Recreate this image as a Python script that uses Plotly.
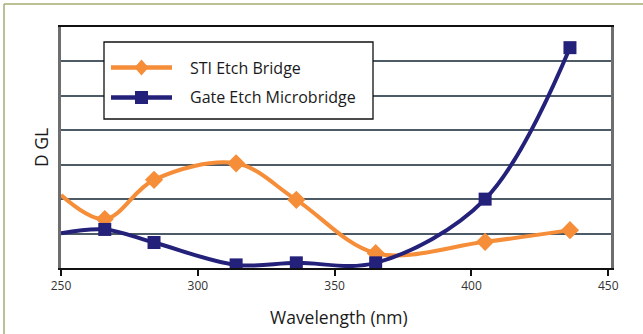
import plotly.graph_objects as go

# Wavelength sample points (nm); the 250 nm entry is the curve's start, drawn without a marker
wavelength = [250, 266, 284, 314, 336, 365, 405, 436]
sti_etch_bridge = [2.12, 1.42, 2.56, 3.04, 1.98, 0.43, 0.76, 1.10]
gate_etch_microbridge = [1.01, 1.12, 0.74, 0.09, 0.15, 0.15, 2.00, 6.40]
x_ticks = [250, 300, 350, 400, 450]
series_names = ["STI Etch Bridge", "Gate Etch Microbridge"]

ORANGE = "#f68d38"
NAVY = "#24217a"
FONT = "Open Sans, Noto Sans, sans-serif"

W, H = 643, 334
L, R, T, B = 61, 32, 27, 66
PW, PH = W - L - R, H - T - B


def px(x):
    return (x - L) / PW


def py(y):
    return (H - B - y) / PH


marker_sizes = [0] + [14] * (len(wavelength) - 1)
square_sizes = [0] + [13] * (len(wavelength) - 1)

fig = go.Figure()
fig.add_trace(go.Scatter(
    x=wavelength, y=sti_etch_bridge, name=series_names[0], mode="lines+markers",
    line=dict(color=ORANGE, width=4, shape="spline", smoothing=1.0),
    marker=dict(symbol="diamond", size=marker_sizes, color=ORANGE, opacity=1, line=dict(width=0)),
    showlegend=False,
))
fig.add_trace(go.Scatter(
    x=wavelength, y=gate_etch_microbridge, name=series_names[1], mode="lines+markers",
    line=dict(color=NAVY, width=4, shape="spline", smoothing=1.0),
    marker=dict(symbol="square", size=square_sizes, color=NAVY, opacity=1, line=dict(width=0)),
    showlegend=False,
))

shapes = []
annotations = []

# outer frame (left and top edges)
shapes.append(dict(type="line", xref="paper", yref="paper", x0=px(4), x1=px(4), y0=py(4), y1=py(H + 2),
                   line=dict(color="#a4ad72", width=1.5)))
shapes.append(dict(type="line", xref="paper", yref="paper", x0=px(4), x1=px(W + 2), y0=py(4), y1=py(4),
                   line=dict(color="#a4ad72", width=1.5)))

# legend box
shapes.append(dict(type="rect", xref="paper", yref="paper", x0=px(104), x1=px(373), y0=py(42), y1=py(119),
                   line=dict(color="#111111", width=1.3), fillcolor="white", layer="above"))
legend_rows = [(67.5, ORANGE, "diamond"), (97.5, NAVY, "square")]
for (yy, col, sym), name in zip(legend_rows, series_names):
    shapes.append(dict(type="line", xref="paper", yref="paper", x0=px(111), x1=px(172), y0=py(yy), y1=py(yy),
                       line=dict(color=col, width=4.5), layer="above"))
    cx = 141.5
    if sym == "diamond":
        path = "M{},{} L{},{} L{},{} L{},{} Z".format(
            px(cx), py(yy - 8), px(cx + 7), py(yy), px(cx), py(yy + 8), px(cx - 7), py(yy))
        shapes.append(dict(type="path", xref="paper", yref="paper", path=path,
                           fillcolor=col, line=dict(color=col, width=0), layer="above"))
    else:
        shapes.append(dict(type="rect", xref="paper", yref="paper", x0=px(cx - 6.5), x1=px(cx + 6.5),
                           y0=py(yy - 6.5), y1=py(yy + 6.5), fillcolor=col,
                           line=dict(color=col, width=0), layer="above"))
    annotations.append(dict(xref="paper", yref="paper", x=px(188), y=py(yy), text=name, showarrow=False,
                            xanchor="left", yanchor="middle", font=dict(family=FONT, size=16, color="#1a1a1a")))

# axis titles
annotations.append(dict(xref="paper", yref="paper", x=px(339), y=py(317), text="Wavelength (nm)", showarrow=False,
                        xanchor="center", yanchor="middle", font=dict(family=FONT, size=17.5, color="#1a1a1a")))
annotations.append(dict(xref="paper", yref="paper", x=px(41), y=py(148), text="D GL", showarrow=False, textangle=-90,
                        xanchor="center", yanchor="middle", font=dict(family=FONT, size=17.5, color="#1a1a1a")))

fig.update_layout(
    width=W, height=H,
    margin=dict(l=L, r=R, t=T, b=B),
    paper_bgcolor="white", plot_bgcolor="white",
    shapes=shapes, annotations=annotations,
    xaxis=dict(range=[250, 451], tickvals=x_ticks, ticktext=[str(t) for t in x_ticks],
               showgrid=False, zeroline=False, showline=True, linecolor="#111111", linewidth=1.5,
               mirror=True, ticks="outside", ticklen=6, tickwidth=2, tickcolor="#111111",
               tickfont=dict(family=FONT, size=12, color="#333333")),
    yaxis=dict(range=[0, 7], dtick=1, showticklabels=False, showgrid=True, gridcolor="#4d5b67",
               gridwidth=2, zeroline=False, showline=True, linecolor="#6e6e6e", linewidth=2.5,
               mirror=True, ticks=""),
)

fig.write_html("out.html")
